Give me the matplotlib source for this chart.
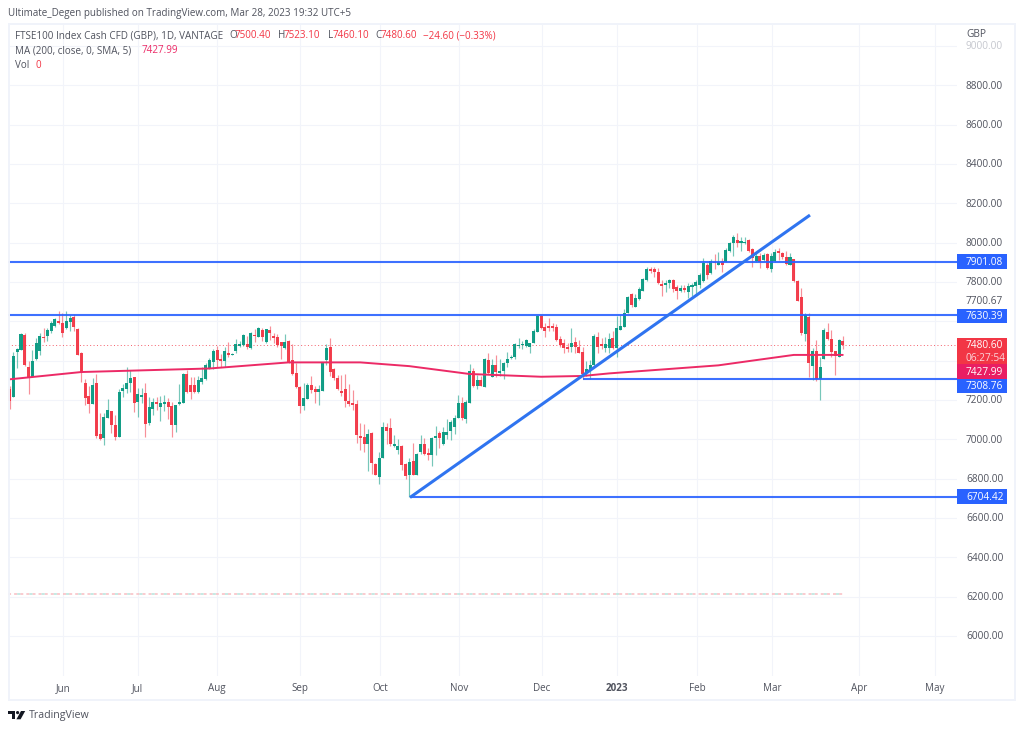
import matplotlib
matplotlib.use("Agg")
import matplotlib.pyplot as plt
from matplotlib.patches import Rectangle, Polygon, Circle
from matplotlib.transforms import Affine2D

plt.rcParams['font.family'] = ['Open Sans', 'DejaVu Sans']

opens = [7254, 7216, 7442, 7454, 7532, 7369, 7315, 7406, 7450, 7520,
         7525, 7552, 7576, 7601, 7593, 7566, 7598, 7620, 7561, 7437,
         7284, 7222, 7179, 7288, 7027, 7006, 7106, 7144, 7074, 7013,
         7245, 7257, 7284, 7315, 7189, 7216, 7233, 7081, 7155, 7191,
         7166, 7179, 7191, 7169, 7072, 7179, 7183, 7332, 7276, 7276,
         7242, 7291, 7306, 7355, 7394, 7454, 7410, 7399, 7437, 7430,
         7450, 7474, 7477, 7482, 7462, 7530, 7521, 7555, 7493, 7555,
         7525, 7518, 7493, 7462, 7501, 7403, 7335, 7267, 7169, 7206,
         7274, 7254, 7240, 7247, 7403, 7471, 7355, 7311, 7245, 7257,
         7196, 7187, 7182, 7016, 7013, 6974, 7033, 6874, 6810, 6903,
         7060, 7057, 6965, 6945, 6967, 6874, 6818, 6889, 6818, 6933,
         6974, 6928, 6920, 7008, 7033, 6976, 7022, 7044, 7061, 7110,
         7183, 7103, 7183, 7349, 7271, 7301, 7264, 7403, 7315, 7377,
         7335, 7349, 7386, 7411, 7416, 7472, 7477, 7476, 7471, 7491,
         7547, 7628, 7569, 7576, 7576, 7569, 7510, 7488, 7471, 7467,
         7494, 7471, 7445, 7335, 7352, 7377, 7522, 7483, 7466, 7466,
         7513, 7462, 7556, 7569, 7640, 7739, 7674, 7713, 7756, 7810,
         7866, 7864, 7852, 7790, 7783, 7793, 7810, 7776, 7754, 7768,
         7751, 7776, 7781, 7785, 7807, 7886, 7844, 7903, 7888, 7905,
         7903, 7957, 7996, 8013, 8000, 7996, 8013, 7966, 7905, 7932,
         7912, 7940, 7864, 7905, 7957, 7945, 7929, 7886, 7915, 7807,
         7725, 7535, 7620, 7373, 7449, 7305, 7406, 7547, 7508, 7451,
         7420, 7500.4]
closes = [7196, 7423, 7457, 7535, 7377, 7315, 7398, 7491, 7525, 7516,
          7555, 7589, 7611, 7589, 7542, 7603, 7615, 7569, 7428, 7338,
          7211, 7179, 7276, 7016, 6999, 7115, 7149, 7071, 7010, 7242,
          7262, 7288, 7311, 7186, 7230, 7227, 7077, 7162, 7191, 7179,
          7184, 7188, 7162, 7072, 7174, 7188, 7332, 7242, 7242, 7242,
          7304, 7310, 7376, 7403, 7450, 7403, 7398, 7449, 7430, 7435,
          7484, 7484, 7528, 7471, 7542, 7525, 7564, 7521, 7559, 7538,
          7515, 7479, 7474, 7493, 7389, 7330, 7264, 7171, 7210, 7276,
          7250, 7240, 7254, 7386, 7462, 7343, 7311, 7254, 7237, 7196,
          7182, 7174, 7021, 7006, 6976, 7026, 6877, 6821, 6903, 7064,
          7043, 6974, 6974, 6965, 6869, 6815, 6886, 6821, 6925, 6974,
          6925, 6918, 7006, 7016, 7006, 7038, 7038, 7088, 7110, 7183,
          7108, 7191, 7349, 7271, 7301, 7271, 7410, 7335, 7377, 7344,
          7349, 7389, 7406, 7416, 7484, 7479, 7484, 7505, 7488, 7552,
          7628, 7566, 7552, 7564, 7566, 7505, 7479, 7462, 7457, 7491,
          7467, 7440, 7332, 7355, 7377, 7525, 7471, 7474, 7484, 7512,
          7462, 7564, 7576, 7640, 7722, 7683, 7717, 7764, 7815, 7868,
          7854, 7852, 7793, 7779, 7796, 7808, 7766, 7752, 7771, 7759,
          7779, 7785, 7801, 7834, 7898, 7835, 7908, 7895, 7903, 7886,
          7962, 7996, 8030, 8000, 8008, 8003, 7959, 7920, 7932, 7903,
          7935, 7869, 7932, 7954, 7949, 7929, 7891, 7929, 7807, 7705,
          7539, 7632, 7386, 7449, 7305, 7369, 7556, 7508, 7445, 7423,
          7505, 7480.6]
highs = [7271, 7445, 7466, 7542, 7538, 7400, 7454, 7513, 7538, 7564,
         7564, 7603, 7615, 7652, 7640, 7652, 7632, 7637, 7564, 7445,
         7308, 7271, 7310, 7332, 7135, 7132, 7203, 7144, 7123, 7254,
         7281, 7366, 7352, 7315, 7259, 7261, 7288, 7216, 7208, 7213,
         7220, 7225, 7208, 7191, 7174, 7281, 7335, 7352, 7318, 7318,
         7322, 7369, 7389, 7411, 7457, 7474, 7433, 7467, 7493, 7437,
         7508, 7501, 7535, 7525, 7545, 7559, 7569, 7564, 7560, 7576,
         7542, 7535, 7496, 7535, 7504, 7482, 7386, 7271, 7287, 7287,
         7321, 7271, 7274, 7386, 7484, 7515, 7360, 7326, 7326, 7332,
         7281, 7250, 7199, 7084, 7077, 7050, 7038, 6877, 6935, 7089,
         7081, 7106, 7021, 7004, 6971, 6877, 6903, 6979, 6928, 7022,
         7005, 6954, 7010, 7067, 7044, 7064, 7101, 7098, 7123, 7225,
         7213, 7200, 7383, 7361, 7327, 7322, 7413, 7440, 7406, 7428,
         7406, 7393, 7442, 7428, 7488, 7513, 7501, 7508, 7488, 7559,
         7630, 7633, 7593, 7615, 7589, 7586, 7525, 7508, 7491, 7564,
         7518, 7505, 7467, 7398, 7403, 7535, 7547, 7513, 7518, 7539,
         7552, 7627, 7632, 7661, 7729, 7745, 7739, 7776, 7818, 7874,
         7878, 7878, 7873, 7810, 7810, 7813, 7813, 7783, 7785, 7783,
         7793, 7793, 7810, 7844, 7923, 7895, 7915, 7940, 7952, 7920,
         7971, 8005, 8039, 8047, 8027, 8030, 8017, 7971, 7945, 7945,
         7949, 7945, 7945, 7966, 7971, 7954, 7959, 7945, 7915, 7810,
         7768, 7640, 7640, 7462, 7505, 7420, 7564, 7590, 7556, 7451,
         7508, 7523.1]
lows = [7155, 7216, 7361, 7454, 7372, 7228, 7315, 7403, 7428, 7496,
        7501, 7538, 7572, 7586, 7518, 7559, 7552, 7552, 7428, 7293,
        7172, 7132, 7179, 7005, 6996, 6971, 7106, 7030, 6996, 7013,
        7216, 7233, 7242, 7140, 7111, 7183, 7013, 7072, 7123, 7149,
        7094, 7145, 7101, 7010, 7038, 7176, 7183, 7237, 7205, 7233,
        7233, 7281, 7304, 7355, 7355, 7369, 7369, 7369, 7416, 7428,
        7437, 7467, 7474, 7460, 7457, 7496, 7521, 7501, 7491, 7504,
        7491, 7467, 7406, 7457, 7386, 7326, 7259, 7132, 7149, 7203,
        7233, 7186, 7176, 7247, 7377, 7321, 7304, 7250, 7220, 7165,
        7169, 7149, 6979, 6945, 6937, 6840, 6826, 6816, 6772, 6903,
        6976, 6965, 6962, 6925, 6843, 6796, 6708, 6821, 6818, 6925,
        6920, 6894, 6866, 6920, 6954, 6971, 7000, 6996, 7027, 7110,
        7098, 7081, 7183, 7267, 7254, 7271, 7264, 7332, 7315, 7318,
        7322, 7308, 7369, 7406, 7408, 7462, 7459, 7467, 7437, 7488,
        7545, 7559, 7518, 7552, 7552, 7501, 7471, 7440, 7445, 7445,
        7440, 7440, 7308, 7322, 7308, 7374, 7437, 7457, 7445, 7437,
        7457, 7420, 7556, 7569, 7640, 7674, 7671, 7708, 7756, 7807,
        7847, 7827, 7790, 7729, 7751, 7768, 7751, 7715, 7749, 7749,
        7717, 7729, 7739, 7768, 7801, 7813, 7840, 7864, 7888, 7852,
        7903, 7954, 7932, 7976, 7959, 7993, 7954, 7878, 7903, 7873,
        7908, 7864, 7849, 7903, 7912, 7915, 7886, 7886, 7801, 7705,
        7530, 7501, 7315, 7301, 7298, 7200, 7406, 7505, 7417, 7327,
        7420, 7460.1]

ma_bars = [0, 19, 53, 74, 93, 106, 122, 141, 152, 159, 188, 197, 208, 215, 221]
ma_vals = [7305, 7342, 7360, 7391, 7391, 7372, 7332, 7318, 7322, 7335, 7376, 7400, 7429, 7429, 7429]

month_pos = [14.1, 34.0, 55.0, 77.0, 98.2, 119.2, 141.2, 161.0, 182.3, 202.2, 225.3, 245.5]
month_labels = ['Jun', 'Jul', 'Aug', 'Sep', 'Oct', 'Nov', 'Dec', '2023', 'Feb', 'Mar', 'Apr', 'May']

y_ticks = [9000, 8800, 8600, 8400, 8200, 8000, 7800, 7200, 7000, 6800, 6600, 6400, 6200, 6000]
grid_levels = [6000, 6200, 6400, 6600, 6800, 7000, 7200, 7400, 7600, 7800, 8000, 8200, 8400, 8600, 8800, 9000]

support_levels = [7901.08, 7630.39, 7308.76, 6704.42]
support_start = [-0.45, -0.45, 152.2, 106.2]
trend_bars = [106.2, 212.3]
trend_prices = [6704.42, 8140]

W, H = 1024, 730
UP = '#089981'
DOWN = '#F23645'
BLUE = '#2962FF'
TEXT = '#50535E'

fig = plt.figure(figsize=(W / 100, H / 100), dpi=100, facecolor='white')
ax = fig.add_axes([8 / W, 1 - 676 / H, (957 - 8) / W, (676 - 23) / H])
ax.set_xlim(-0.45, 251.3)
ax.set_ylim(5796.6, 9116.5)
for s in ax.spines.values():
    s.set_visible(False)
ax.tick_params(left=False, bottom=False, labelleft=False, labelbottom=False)

# grid
for m in month_pos:
    ax.axvline(m, color='#F2F4FA', lw=0.8, zorder=0)
for g in grid_levels:
    ax.axhline(g, color='#F2F4FA', lw=0.8, zorder=0)

# last price line and the faint volume line
ax.axhline(closes[-1], color=DOWN, lw=0.7, ls=(0, (1, 2.5)), alpha=0.8, zorder=1)
ax.plot([-0.45, 221.5], [6213, 6213], color='#F9BDC2', lw=1.1, ls=(0, (2, 2)), zorder=1)
ax.plot([-0.45, 221.5], [6213, 6213], color='#B5E4DC', lw=1.1, ls=(2, (2, 6)), zorder=1)

# candles
for i in range(len(opens)):
    col = UP if closes[i] >= opens[i] else DOWN
    ax.vlines(i, lows[i], highs[i], color=col, lw=0.85, alpha=0.55, zorder=2)
    bottom = min(opens[i], closes[i])
    height = max(abs(closes[i] - opens[i]), 6)
    ax.bar(i, height, bottom=bottom, width=0.8, color=col, lw=0, alpha=0.95, zorder=3)

ax.plot(ma_bars, ma_vals, color='#EC2A66', lw=1.4, zorder=4, solid_capstyle='round')

# drawings
for lvl, st in zip(support_levels, support_start):
    ax.plot([st, 251.3], [lvl, lvl], color=BLUE, lw=1.5, alpha=0.9, zorder=5, solid_capstyle='butt')
ax.plot(trend_bars, trend_prices, color='#2F74F0', lw=2.2, zorder=5, solid_capstyle='butt')


def px(x, y):
    return x / W, 1 - y / H


def label(x, y, s, color=TEXT, size=7.1, **kw):
    fx, fy = px(x, y + 0.8)
    return fig.text(fx, fy, s, color=color, fontsize=size, va='center', **kw)


# outer frame
fig.add_artist(Rectangle(px(8.5, 699.5), (1015 - 8.5) / W, (699.5 - 23.5) / H, fill=False,
                         ec='#F0F3FA', lw=1.4, transform=fig.transFigure))

# header and legend
label(8, 12.5, 'Ultimate_Degen published on TradingView.com, Mar 28, 2023 19:32 UTC+5', size=7.15)
label(15, 35, 'FTSE100 Index Cash CFD (GBP), 1D, VANTAGE')
for x, s in [(229, 'O'), (278, 'H'), (328, 'L'), (375, 'C')]:
    label(x, 35, s)
for x, s in [(235, '7500.40'), (284, '7523.10'), (333, '7460.10'), (381, '7480.60'), (423, '\u221224.60 (\u22120.33%)')]:
    label(x, 35, s, color=DOWN)
label(15, 50, 'MA (200, close, 0, SMA, 5)')
label(142, 50, '7427.99', color='#EC2A66')
label(15, 65, 'Vol')
label(36, 65, '0', color=DOWN)

# month labels
for m, s in zip(month_pos, month_labels):
    xp = 8 + (m + 0.45) * (957 - 8) / 251.75
    label(xp, 688, s, ha='center', fontweight='bold' if s == '2023' else 'normal')

# price axis labels
label(966, 34, 'GBP', size=7.3)
for t in y_ticks:
    yp = 23 + (9116.5 - t) / (9116.5 - 5796.6) * (676 - 23)
    label(966, yp, f'{t:.2f}', color='#C5C7CE' if t == 9000 else TEXT, size=7.3)
label(966, 301, '7700.67', size=7.3)

# price boxes, centre y in pixels
boxes = [(261.5, 14.5, BLUE, '7901.08'), (316, 14.5, BLUE, '7630.39'), (371.5, 15, '#E91E63', '7427.99'),
         (386, 14.5, BLUE, '7308.76'), (496.5, 14.5, BLUE, '6704.42')]
for yc, h, col, s in boxes:
    fig.add_artist(Rectangle(px(957, yc + h / 2), 50 / W, h / H, fc=col, ec='none', transform=fig.transFigure))
    label(966, yc, s, color='white', size=7.3)
fig.add_artist(Rectangle(px(957, 364), 50 / W, 26 / H, fc=DOWN, ec='none', transform=fig.transFigure))
label(966, 344.5, '7480.60', color='white', size=7.3)
label(966, 357.5, '06:27:54', color='#FBD5D9', size=7.3)

# TradingView logo
to_fig = Affine2D().scale(1 / W, -1 / H).translate(0, 1) + fig.transFigure
logo = '#131722'
fig.add_artist(Polygon([(8.3, 711), (15.3, 711), (15.3, 719.3), (12, 719.3), (12, 714), (8.3, 714)],
                       fc=logo, ec='none', transform=to_fig))
fig.add_artist(Circle((17.6, 712.6), 1.6, fc=logo, ec='none', transform=to_fig))
fig.add_artist(Polygon([(21, 711), (25.2, 711), (20.6, 719.3), (16.4, 719.3)], fc=logo, ec='none', transform=to_fig))
label(28.5, 714.5, 'TradingView', size=7.7, color='#50535E')

fig.savefig('out.png', dpi=100)
